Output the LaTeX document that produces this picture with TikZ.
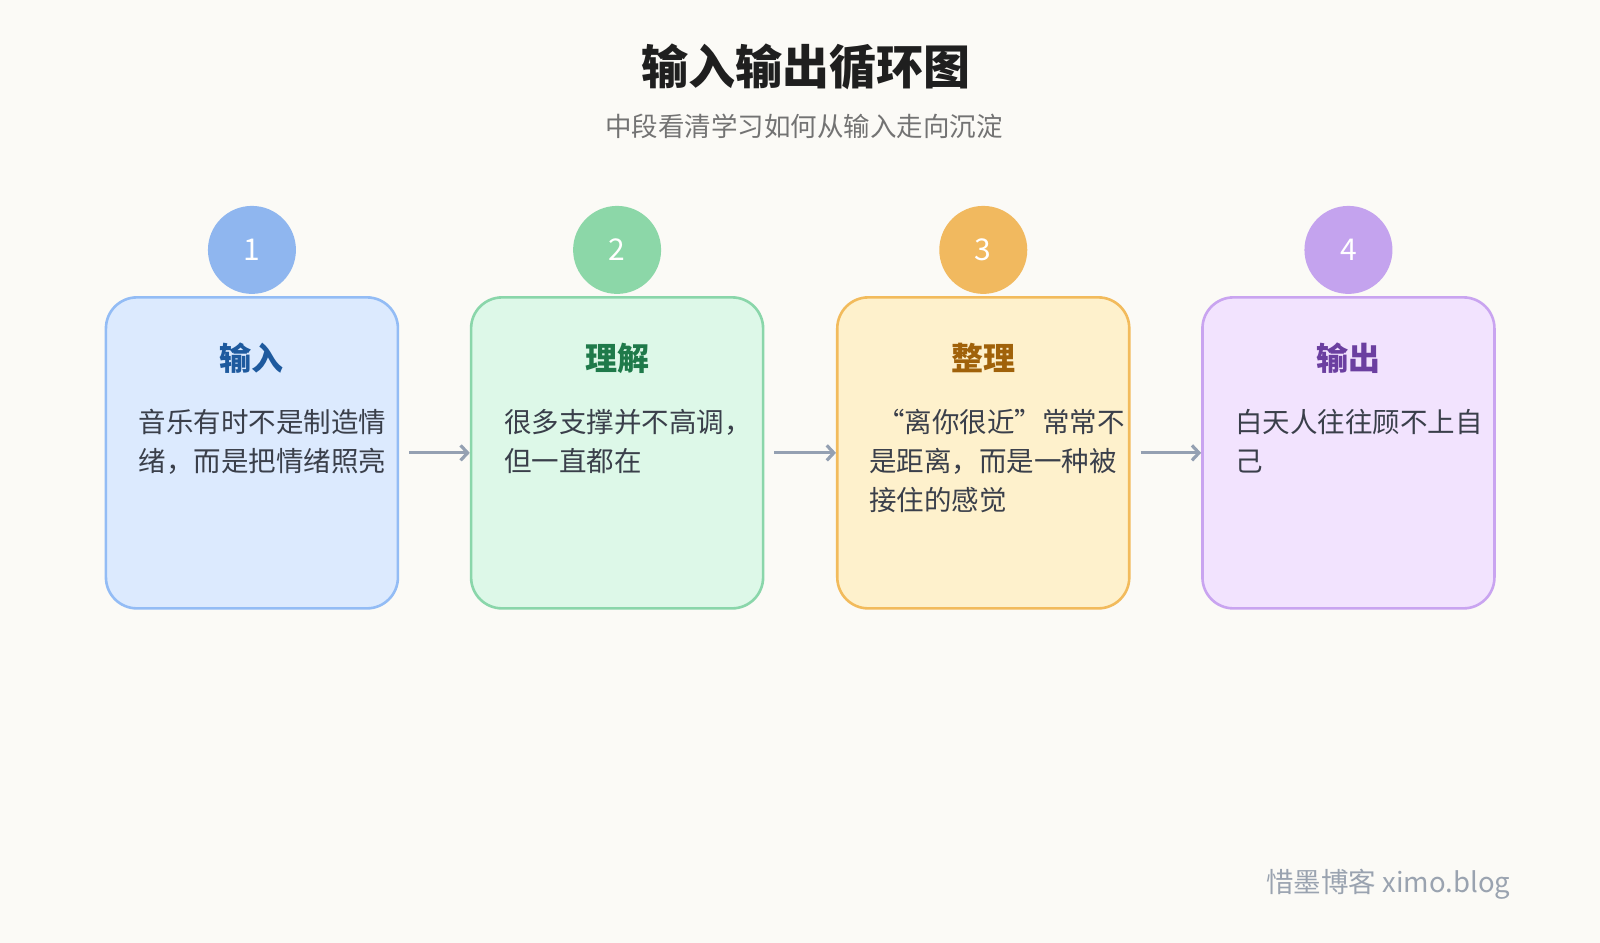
\documentclass[tikz,border=0pt]{standalone}
\usepackage{fontspec}
\setmainfont{Noto Sans CJK SC}
\usetikzlibrary{arrows.meta}
\definecolor{bg}{HTML}{FBFAF6}
\definecolor{fa}{HTML}{DCEAFE}\definecolor{ba}{HTML}{93BCF5}\definecolor{ca}{HTML}{8FB6EF}\definecolor{ta}{HTML}{1E5A9E}
\definecolor{fb}{HTML}{DDF8E8}\definecolor{bb}{HTML}{8AD6AA}\definecolor{cb}{HTML}{8CD7A8}\definecolor{tb}{HTML}{1F7A4A}
\definecolor{fc}{HTML}{FEF1CC}\definecolor{bc}{HTML}{F2BB5C}\definecolor{cc}{HTML}{F1B95F}\definecolor{tc}{HTML}{A0620A}
\definecolor{fd}{HTML}{F2E3FE}\definecolor{bd}{HTML}{C9A4F0}\definecolor{cd}{HTML}{C4A3EE}\definecolor{td}{HTML}{6B3FA0}
\definecolor{arr}{HTML}{94A0B2}
\definecolor{bodyc}{HTML}{3A3F4A}
\definecolor{footc}{HTML}{9AA3B0}
\tikzset{
 card/.style={draw=#1,line width=2.6pt,rounded corners=31pt,minimum width=292pt,minimum height=311pt,inner sep=0pt},
 num/.style={circle,fill=#1,minimum size=88pt,inner sep=0pt,text=white,font=\fontsize{30}{30}\selectfont},
 ttl/.style={text=#1,font=\fontsize{32}{32}\selectfont\bfseries},
 body/.style={anchor=north west,align=left,text=bodyc,font=\fontsize{27.5}{38.8}\selectfont,inner sep=0pt},
 conn/.style={draw=arr,line width=3.2pt,-{Straight Barb[length=7pt,width=15pt]},shorten <=10pt}
}
\begin{document}
\begin{tikzpicture}[x=1.02pt,y=-1.02pt]
\fill[bg] (0,0) rectangle (1568.63,924.5);
\useasboundingbox (0,0) rectangle (1568.63,924.5);
\node[font=\fontsize{47}{47}\selectfont\bfseries,text=black!88] (title) at (790,66) {输入输出循环图};
\node[font=\fontsize{26.5}{26.5}\selectfont,text=gray!90!black] (sub) at (788,124) {中段看清学习如何从输入走向沉淀};
\foreach \i/\x/\c/\t/\n in {a/247/a/输入/1,b/605/b/理解/2,c/964/c/整理/3,d/1322/d/输出/4}{
  \node[card=b\c,fill=f\c] (box\i) at (\x,444) {};
  \node[num=c\c] (n\i) at (\x,245) {\n};
  \node[ttl=t\c] (t\i) at (\x,351) {\t};
}
\node[body] (xa) at (136,401) {音乐有时不是制造情\\绪，而是把情绪照亮};
\node[body] (xb) at (494,401) {很多支撑并不高调，\\但一直都在};
\node[body] (xc) at (852,401) {\hspace*{8pt}“离你很近”常常不\\是距离，而是一种被\\接住的感觉};
\node[body] (xd) at (1211,401) {白天人往往顾不上自\\己};
\draw[conn] (boxa.east) -- (boxb.west);
\draw[conn] (boxb.east) -- (boxc.west);
\draw[conn] (boxc.east) -- (boxd.west);
\node[anchor=east,text=footc,font=\fontsize{27.5}{27.5}\selectfont] (foot) at (1484,867) {惜墨博客 ximo.blog};
\end{tikzpicture}
\end{document}
